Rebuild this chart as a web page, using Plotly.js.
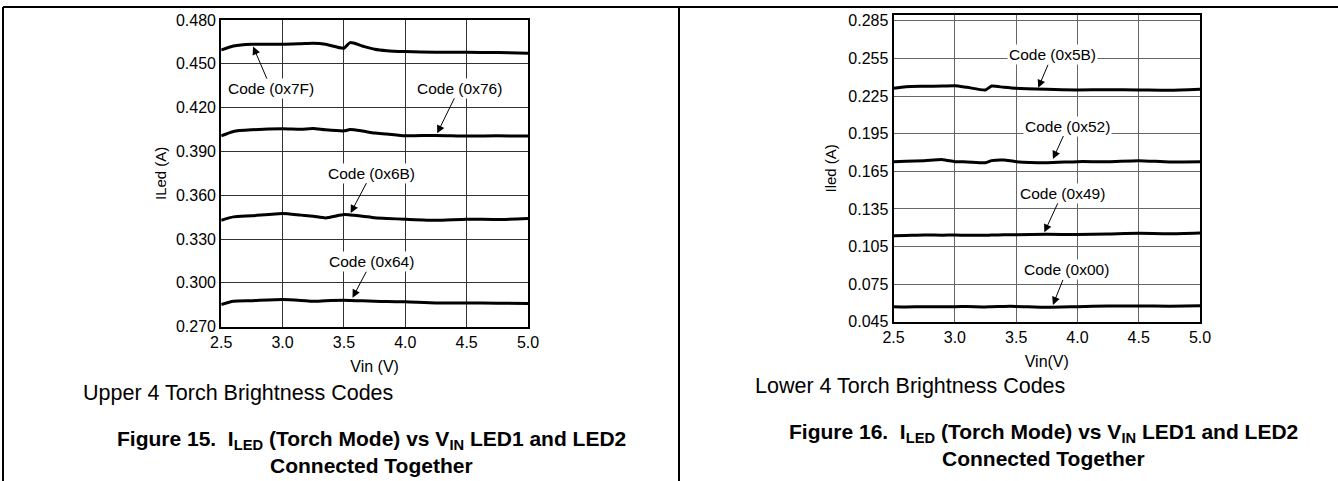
<!DOCTYPE html>
<html>
<head>
<meta charset="utf-8">
<script src="https://cdn.plot.ly/plotly-3.0.1.min.js"></script>
<style>
  html, body { margin: 0; padding: 0; background: #fff; }
  #chart { width: 1338px; height: 481px; }
</style>
</head>
<body>
<div id="chart"></div>
<script>
// ---- Data ----
const vinUpper = [2.5, 2.6, 2.75, 3.0, 3.15, 3.25, 3.35, 3.5, 3.55, 3.65, 3.75, 3.85, 4.0, 4.25, 4.5, 4.75, 5.0];
const code7F = [0.4595, 0.4622, 0.4634, 0.4634, 0.4638, 0.4641, 0.4634, 0.4607, 0.4645, 0.4622, 0.4600, 0.4590, 0.4584, 0.4579, 0.4579, 0.4577, 0.4572];
const code76 = [0.4007, 0.4037, 0.4048, 0.4055, 0.4052, 0.4057, 0.4048, 0.4041, 0.4050, 0.4040, 0.4026, 0.4019, 0.4007, 0.4010, 0.4005, 0.4007, 0.4005];
const code6B = [0.3429, 0.3452, 0.3459, 0.3475, 0.3464, 0.3457, 0.3445, 0.3468, 0.3465, 0.3457, 0.3446, 0.3441, 0.3436, 0.3429, 0.3436, 0.3434, 0.3441];
const code64 = [0.2852, 0.2874, 0.2878, 0.2886, 0.2880, 0.2874, 0.2878, 0.2881, 0.2880, 0.2877, 0.2874, 0.2872, 0.2870, 0.2863, 0.2863, 0.2861, 0.2858];

const vinLower = [2.5, 2.6, 2.75, 2.9, 3.0, 3.1, 3.25, 3.3, 3.4, 3.5, 3.75, 4.0, 4.25, 4.5, 4.75, 5.0];
const code5B = [0.2312, 0.2325, 0.2328, 0.2330, 0.2333, 0.2320, 0.2299, 0.2330, 0.2320, 0.2312, 0.2304, 0.2299, 0.2301, 0.2299, 0.2296, 0.2304];
const code52 = [0.1727, 0.1731, 0.1735, 0.1743, 0.1727, 0.1725, 0.1719, 0.1735, 0.1740, 0.1727, 0.1719, 0.1727, 0.1727, 0.1735, 0.1725, 0.1727];
const code49 = [0.1136, 0.1138, 0.1142, 0.1140, 0.1142, 0.1139, 0.1140, 0.1141, 0.1143, 0.1144, 0.1147, 0.1146, 0.1150, 0.1155, 0.1152, 0.1158];
const code00 = [0.0570, 0.0568, 0.0570, 0.0569, 0.0570, 0.0571, 0.0568, 0.0570, 0.0572, 0.0572, 0.0565, 0.0570, 0.0575, 0.0575, 0.0574, 0.0578];

const upperNames = ['Code (0x7F)', 'Code (0x76)', 'Code (0x6B)', 'Code (0x64)'];
const lowerNames = ['Code (0x5B)', 'Code (0x52)', 'Code (0x49)', 'Code (0x00)'];
// arrow-tip points on the curves (Vin, I)
const upperTipX = [2.76, 4.26, 3.555, 3.57];
const upperTipY = [0.4618, 0.4024, 0.3478, 0.2898];
const lowerTipX = [3.68, 3.80, 3.73, 3.80];
const lowerTipY = [0.2316, 0.1748, 0.1163, 0.0584];

const upperTicks = ['0.270', '0.300', '0.330', '0.360', '0.390', '0.420', '0.450', '0.480'];
const lowerTicks = ['0.045', '0.075', '0.105', '0.135', '0.165', '0.195', '0.225', '0.255', '0.285'];

// ---- Styling ----
const FONT = 'Liberation Sans, Arial, Helvetica, sans-serif';
const curveLine = { color: '#000', width: 3, shape: 'spline', smoothing: 0.6 };

const traces = [];
[code7F, code76, code6B, code64].forEach((ys, i) => {
  traces.push({ x: vinUpper, y: ys, type: 'scatter', mode: 'lines', name: upperNames[i],
    line: curveLine, xaxis: 'x', yaxis: 'y', showlegend: false, hoverinfo: 'x+y' });
});
[code5B, code52, code49, code00].forEach((ys, i) => {
  traces.push({ x: vinLower, y: ys, type: 'scatter', mode: 'lines', name: lowerNames[i],
    line: curveLine, xaxis: 'x2', yaxis: 'y2', showlegend: false, hoverinfo: 'x+y' });
});

const W = 1338, H = 481;
const px = v => v / W, py = v => 1 - v / H;

function xAxis(domain, title, gridcolor, anchor, standoff) {
  return {
    domain: domain, anchor: anchor, range: [2.5, 5.0], dtick: 0.5, tick0: 2.5, tickformat: '.1f',
    showgrid: true, gridcolor: gridcolor, gridwidth: 1, zeroline: false,
    showline: true, linecolor: '#000', linewidth: 2, mirror: true,
    ticks: '', tickfont: { family: FONT, size: 16, color: '#000' },
    title: { text: title, font: { family: FONT, size: 16, color: '#000' }, standoff: standoff },
    fixedrange: true
  };
}
function yAxis(domain, range, tickvals, ticktext, title, gridcolor, anchor, standoff) {
  return {
    domain: domain, anchor: anchor, range: range, tickvals: tickvals, ticktext: ticktext,
    showgrid: true, gridcolor: gridcolor, gridwidth: 1, zeroline: false,
    showline: true, linecolor: '#000', linewidth: 2, mirror: true,
    ticks: '', tickfont: { family: FONT, size: 16, color: '#000' },
    title: { text: title, font: { family: FONT, size: 15, color: '#000' }, standoff: standoff },
    fixedrange: true
  };
}

const annotations = [];
const upperOff = [[18, 42], [22, -45], [21, -40], [19, -36]];
const lowerOff = [[14, -33], [15, -33], [18, -39], [14, -35]];
upperNames.forEach((t, i) => annotations.push({
  x: upperTipX[i], y: upperTipY[i], xref: 'x', yref: 'y', text: t,
  ax: upperOff[i][0], ay: upperOff[i][1], showarrow: true, arrowhead: 2, arrowsize: 1.6,
  arrowwidth: 1, arrowcolor: '#000', bgcolor: '#fff', borderpad: 1,
  font: { family: FONT, size: 15.5, color: '#000' }
}));
lowerNames.forEach((t, i) => annotations.push({
  x: lowerTipX[i], y: lowerTipY[i], xref: 'x2', yref: 'y2', text: t,
  ax: lowerOff[i][0], ay: lowerOff[i][1], showarrow: true, arrowhead: 2, arrowsize: 1.6,
  arrowwidth: 1, arrowcolor: '#000', bgcolor: '#fff', borderpad: 1,
  font: { family: FONT, size: 15.5, color: '#000' }
}));

// captions
function caption(x, y, text, size, anchor) {
  annotations.push({ xref: 'paper', yref: 'paper', x: px(x), y: py(y), xanchor: anchor, yanchor: 'middle',
    text: text, showarrow: false, font: { family: FONT, size: size, color: '#000' } });
}
caption(81, 393, 'Upper 4 Torch Brightness Codes', 21.5, 'left');
caption(753, 386, 'Lower 4 Torch Brightness Codes', 21.5, 'left');
caption(371, 440, '<b>Figure 15.\u00a0 I<sub>LED</sub> (Torch Mode) vs V<sub>IN</sub> LED1 and LED2</b>', 21, 'center');
caption(371, 465, '<b>Connected Together</b>', 21, 'center');
caption(1043, 433, '<b>Figure 16.\u00a0 I<sub>LED</sub> (Torch Mode) vs V<sub>IN</sub> LED1 and LED2</b>', 21, 'center');
caption(1043, 458, '<b>Connected Together</b>', 21, 'center');

const shapes = [
  { type: 'line', xref: 'paper', yref: 'paper', x0: px(3), x1: 1, y0: py(7), y1: py(7), line: { color: '#000', width: 2 } },
  { type: 'line', xref: 'paper', yref: 'paper', x0: px(3), x1: px(3), y0: py(7), y1: 0, line: { color: '#000', width: 2 } },
  { type: 'line', xref: 'paper', yref: 'paper', x0: px(679), x1: px(679), y0: py(7), y1: 0, line: { color: '#000', width: 2 } }
];

const layout = {
  width: W, height: H,
  margin: { l: 0, r: 0, t: 0, b: 0 },
  paper_bgcolor: '#fff', plot_bgcolor: '#fff',
  font: { family: FONT, color: '#000' },
  showlegend: false,
  xaxis: xAxis([px(221.2), px(528)], 'Vin (V)', '#333', 'y', 11),
  yaxis: yAxis([py(326.7), py(20)], [0.27, 0.48],
    upperTicks.map(Number), upperTicks, 'ILed (A)', '#333', 'x', 6),
  xaxis2: xAxis([px(893.6), px(1200)], 'Vin(V)', '#666', 'y2', 11),
  yaxis2: yAxis([py(321.7), py(15)], [0.045, 0.2897],
    lowerTicks.map(Number), lowerTicks, 'Iled (A)', '#666', 'x2', 8),
  annotations: annotations,
  shapes: shapes
};

Plotly.newPlot('chart', traces, layout, { staticPlot: true, displayModeBar: false });
</script>
</body>
</html>
